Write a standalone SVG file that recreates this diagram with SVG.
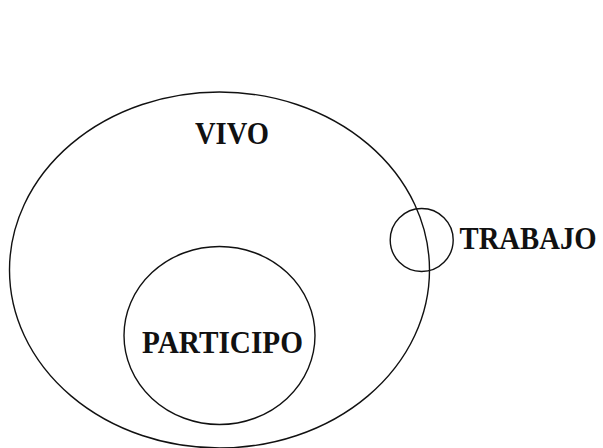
<svg xmlns="http://www.w3.org/2000/svg" width="603" height="448" viewBox="0 0 603 448">
<style>
.shape{fill:none;stroke:#111;stroke-width:1.4}
.lbl{font-family:"Liberation Serif","Times New Roman",serif;font-weight:bold;font-size:31.5px;fill:#111}
.lbl2{font-family:"Liberation Serif","Times New Roman",serif;font-weight:bold;font-size:29px;fill:#111}
</style>
<rect width="603" height="448" fill="#fff"/>
<g id="vivo">
<ellipse class="shape" cx="219.5" cy="270" rx="210" ry="178"/>
<text class="lbl" x="195" y="143.5" textLength="74" lengthAdjust="spacingAndGlyphs">VIVO</text>
</g>
<g id="participo">
<ellipse class="shape" cx="219.5" cy="335.5" rx="95.5" ry="89"/>
<text class="lbl" x="142" y="352.5" textLength="161" lengthAdjust="spacingAndGlyphs">PARTICIPO</text>
</g>
<g id="trabajo">
<circle class="shape" cx="421.7" cy="240" r="31.5"/>
<text class="lbl2" transform="translate(459.5,248.5) scale(0.99,1.086)" x="0" y="0">TRABAJO</text>
</g>
<g id="connectors"/>
</svg>
